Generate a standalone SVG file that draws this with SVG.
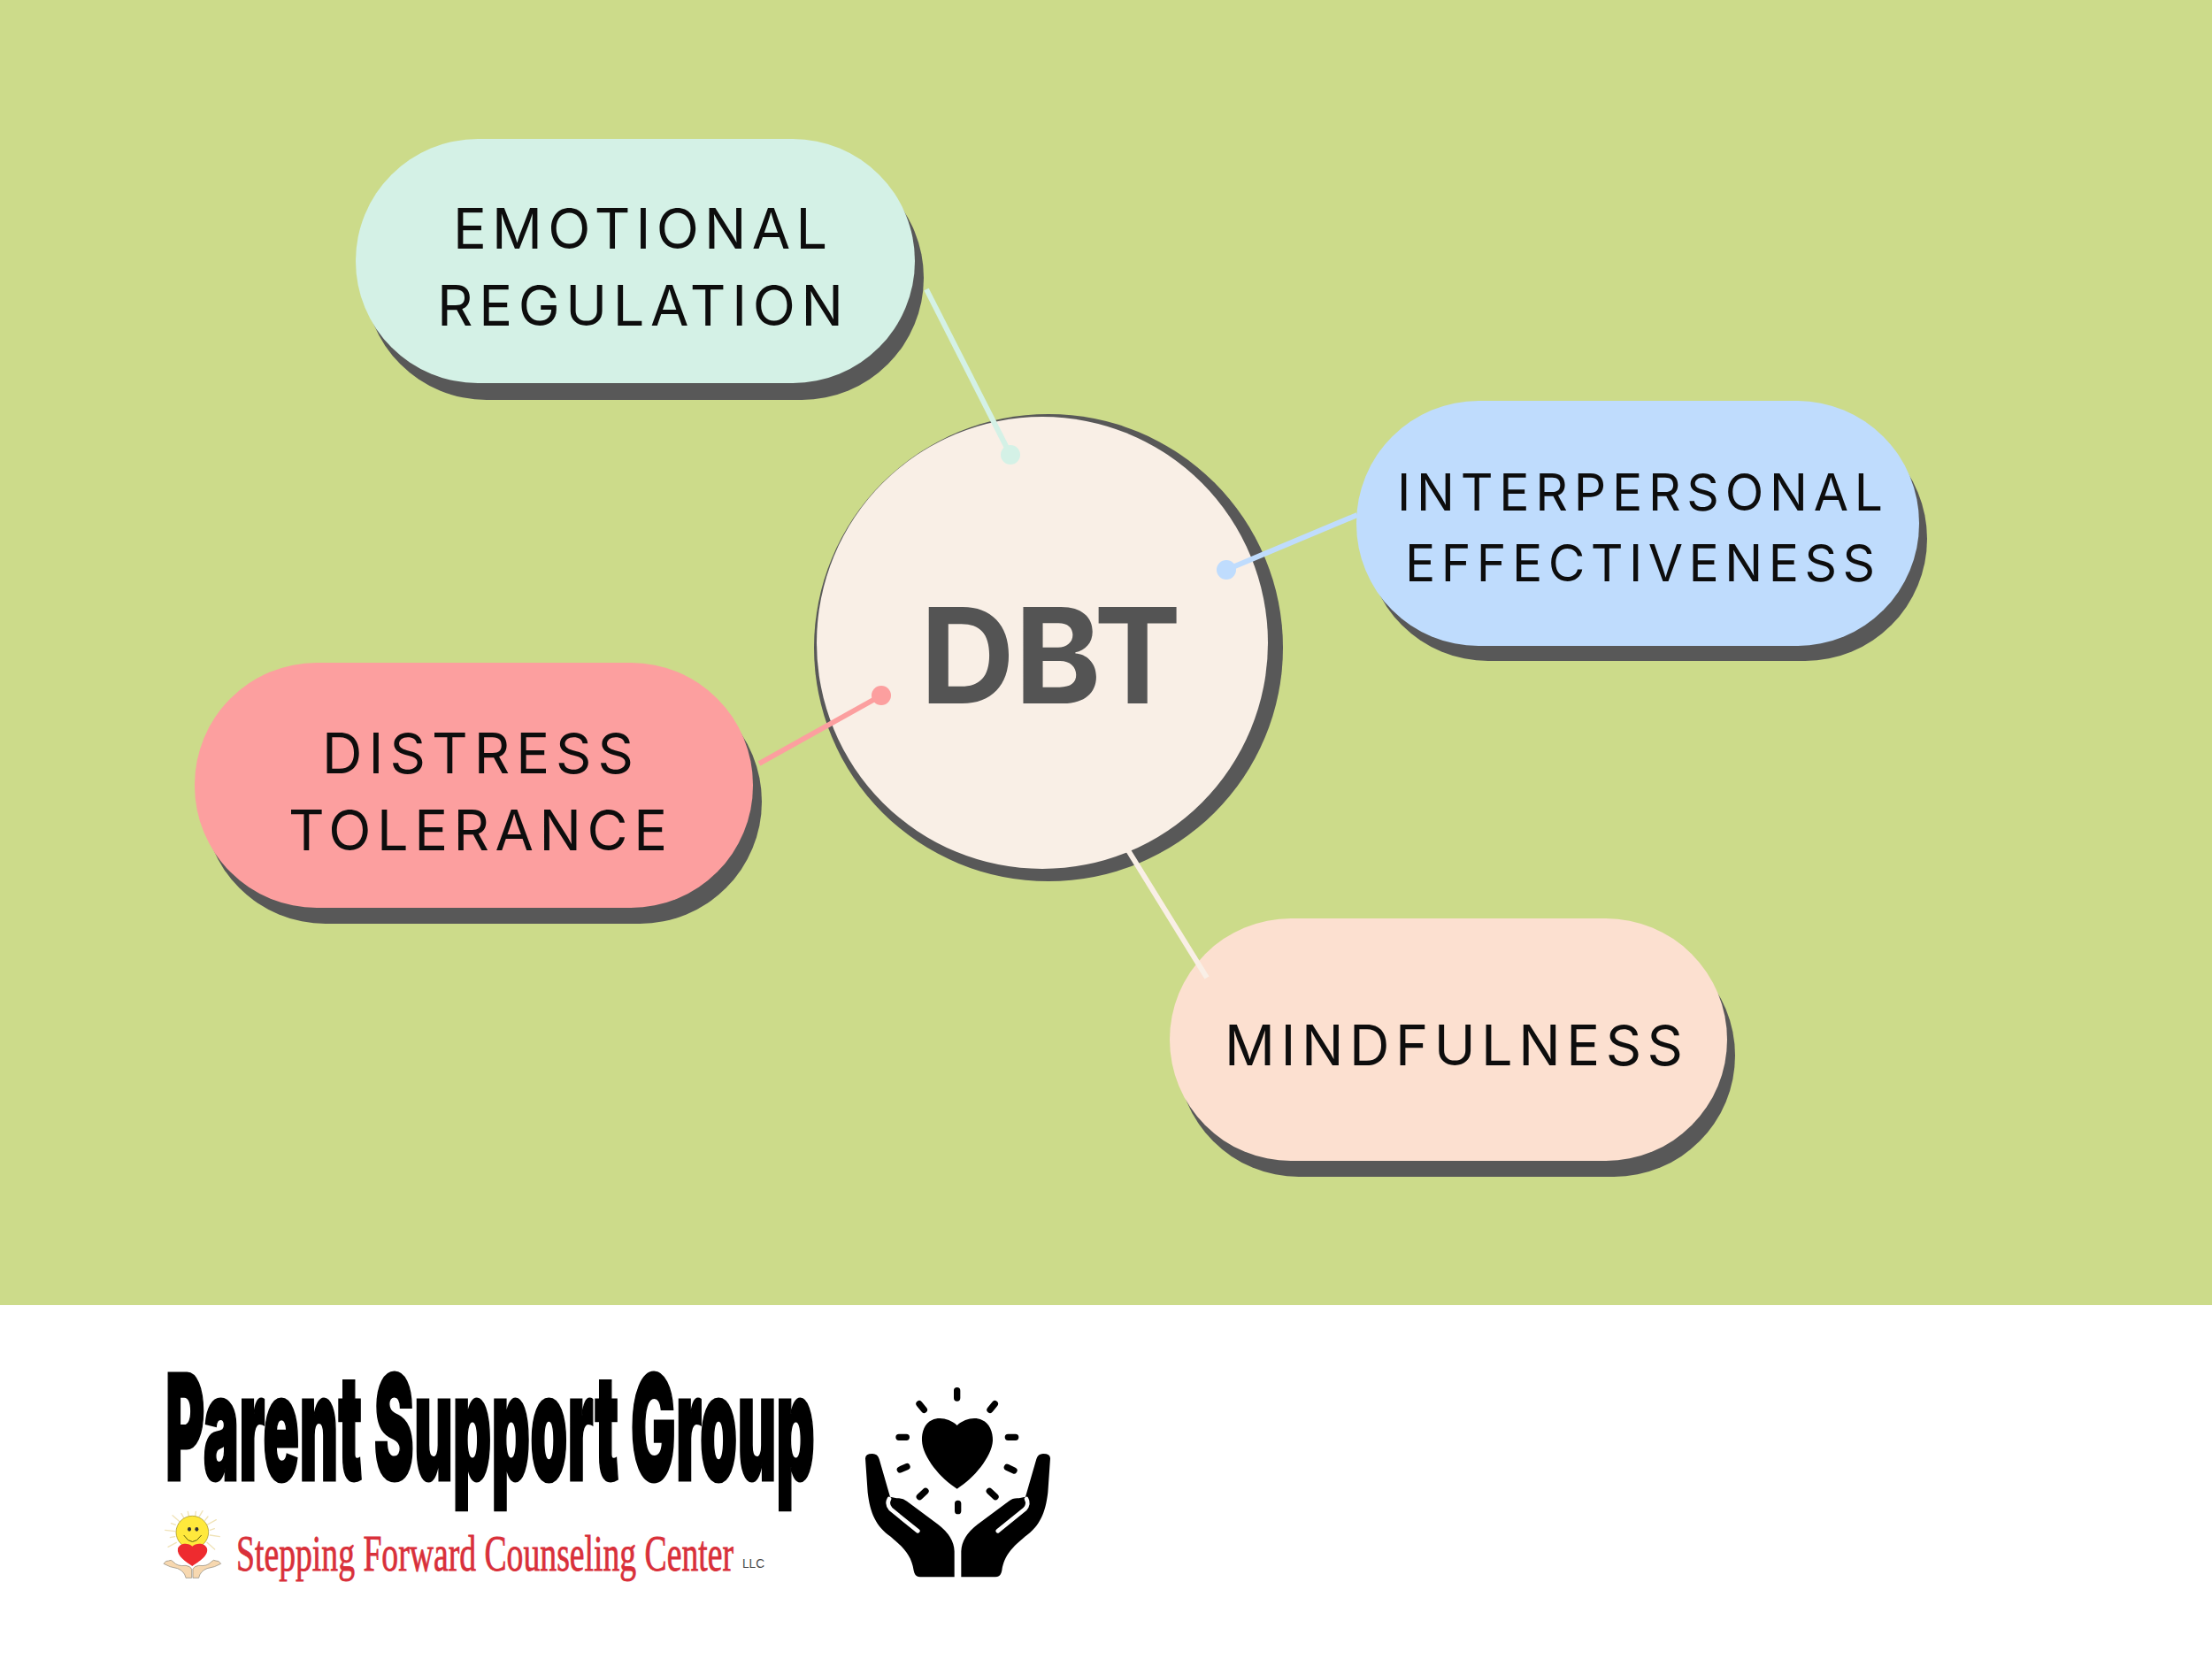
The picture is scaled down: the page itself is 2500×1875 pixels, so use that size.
<svg xmlns="http://www.w3.org/2000/svg" width="2500" height="1875" viewBox="0 0 2500 1875">
<style>
.shadow{fill:#585858}
.label{font-family:Inter,"Liberation Sans",sans-serif;font-weight:400;fill:#0d0d0d}
.lg{font-size:63px}
.md{font-size:57px}
.conn{stroke-width:6;stroke-linecap:butt;fill:none}
.ray{stroke:#000;stroke-width:22;stroke-linecap:round;fill:none}
.sun-ray{stroke:#f0e3b8;stroke-width:4;stroke-linecap:round;fill:none}
</style>
<defs>
<path id="hand" d="M84 325Q84 309 108 309Q126 309 131 327L168 455L190 460Q210 458 225 470L330 548Q385 590 386 640L386 727L270 727Q252 727 248 705C240 650 210 625 170 590C120 555 100 510 92 440Z"/>
<g id="mini-hand"><path d="M75 232Q82 220 92 222Q100 216 108 226Q122 242 150 238Q166 240 170 250L170 280L150 280Q146 258 122 248Q95 244 75 232Z" fill="#f7d8b0" stroke="#8a8578" stroke-width="2"/></g>
</defs>
<rect id="background" x="0" y="0" width="2500" height="1475" fill="#ccdb8a"/>
<rect id="footer" x="0" y="1475" width="2500" height="400" fill="#fff"/>

<g id="node-dbt">
<ellipse class="shadow" cx="1185" cy="732" rx="265" ry="264"/>
<ellipse cx="1178" cy="726.5" rx="255" ry="255.5" fill="#f9efe6"/>
<text x="1040" y="795" textLength="295" lengthAdjust="spacingAndGlyphs" font-family="Inter,'Liberation Sans',sans-serif" font-weight="700" font-size="150" fill="#545454">DBT</text>
</g>

<g id="node-emotional">
<rect class="shadow" x="412" y="176" width="632" height="276" rx="138"/>
<rect x="402" y="157" width="632" height="276" rx="138" fill="#d4f1e6"/>
<text class="label lg" x="512" y="281" textLength="423">EMOTIONAL</text>
<text class="label lg" x="494" y="368" textLength="459">REGULATION</text>
</g>

<g id="node-interpersonal">
<rect class="shadow" x="1544" y="471" width="634" height="276" rx="138"/>
<rect x="1533" y="453" width="636" height="277" rx="138" fill="#bfdcfd"/>
<text class="label md" x="1579" y="577" textLength="549">INTERPERSONAL</text>
<text class="label md" x="1588" y="657" textLength="531">EFFECTIVENESS</text>
</g>

<g id="node-distress">
<rect class="shadow" x="230" y="768" width="631" height="276" rx="138"/>
<rect x="220" y="749" width="631" height="277" rx="138" fill="#fc9f9f"/>
<text class="label lg" x="364" y="874" textLength="352">DISTRESS</text>
<text class="label lg" x="326" y="961" textLength="428">TOLERANCE</text>
</g>

<g id="node-mindfulness">
<rect class="shadow" x="1331" y="1056" width="630" height="274" rx="137"/>
<rect x="1322" y="1038" width="630" height="274" rx="137" fill="#fce0d0"/>
<text class="label lg" x="1384" y="1204" textLength="518">MINDFULNESS</text>
</g>

<g id="connectors">
<g id="conn-emotional"><line class="conn" x1="1047" y1="327" x2="1142" y2="514" stroke="#d4f1e6"/><circle cx="1142" cy="514" r="11" fill="#d4f1e6"/></g>
<g id="conn-interpersonal"><line class="conn" x1="1534" y1="582" x2="1386" y2="644" stroke="#bfdcfd"/><circle cx="1386" cy="644" r="11" fill="#bfdcfd"/></g>
<g id="conn-distress"><line class="conn" x1="858" y1="863" x2="996" y2="786" stroke="#fc9f9f"/><circle cx="996" cy="786" r="11" fill="#fc9f9f"/></g>
<g id="conn-mindfulness"><line class="conn" x1="1275" y1="961" x2="1364" y2="1105" stroke="#f9efe6"/></g>
</g>

<text id="title" x="187" y="1673" textLength="734" lengthAdjust="spacingAndGlyphs" font-family="Inter,'Liberation Sans',sans-serif" font-weight="900" font-size="166" fill="#000" stroke="#000" stroke-width="3">Parent Support Group</text>

<g id="mini-logo" transform="translate(160 1690) scale(.33333)">
<path class="sun-ray" d="M130 90L105 68M143 76L135 62M160 70L157 55M182 70L184 55M195 73L207 53M215 85L225 72M222 100L253 83M232 118L247 113M232 135L265 140M222 160L248 183M115 100L100 95M113 122L80 118M113 140L97 143M118 160L90 175"/>
<circle cx="172" cy="125" r="55" fill="#ffe93c" stroke="#9a8a20" stroke-width="2"/>
<ellipse cx="162" cy="115" rx="6" ry="7" fill="#333"/><ellipse cx="187" cy="115" rx="6" ry="7" fill="#333"/>
<path d="M143 135Q172 180 203 135" fill="none" stroke="#5a5a10" stroke-width="3"/>
<use href="#mini-hand"/>
<use href="#mini-hand" transform="translate(344 0) scale(-1 1)"/>
<path d="M172 173C160 160 130 160 123 180C118 205 150 225 172 240C194 225 228 205 222 180C215 160 185 160 172 173Z" fill="#ee2b2f"/>
</g>
<text id="center-name" x="267" y="1775" textLength="562" lengthAdjust="spacingAndGlyphs" font-family="'Liberation Serif','Times New Roman',serif" font-size="56" fill="#d9303a" stroke="#d9303a" stroke-width="0.8">Stepping Forward Counseling Center</text>
<text id="llc" x="839" y="1772" textLength="25" lengthAdjust="spacingAndGlyphs" font-family="'Liberation Sans',Arial,sans-serif" font-size="14" fill="#444">LLC</text>

<g id="heart-hands" transform="translate(950 1540) scale(.33333)">
<path class="ray" d="M395 95V120M267 140L283 160M523 140L507 160M198 253H223M568 253H593M202 363L225 353M588 366L565 355M268 455L288 436M525 455L505 436M398 478V503"/>
<path d="M395 213C370 190 335 183 310 195C285 205 275 235 276 265C278 320 340 395 395 428C450 395 513 320 516 265C517 235 505 205 480 195C455 183 420 190 395 213Z"/>
<g id="left-hand"><use href="#hand"/><path d="M165 462Q155 480 170 497L262 571" fill="none" stroke="#fff" stroke-width="14" stroke-linecap="round"/></g>
<g transform="translate(795 0) scale(-1 1)"><use href="#hand"/><path d="M165 462Q155 480 170 497L262 571" fill="none" stroke="#fff" stroke-width="14" stroke-linecap="round"/></g>
</g>
</svg>
